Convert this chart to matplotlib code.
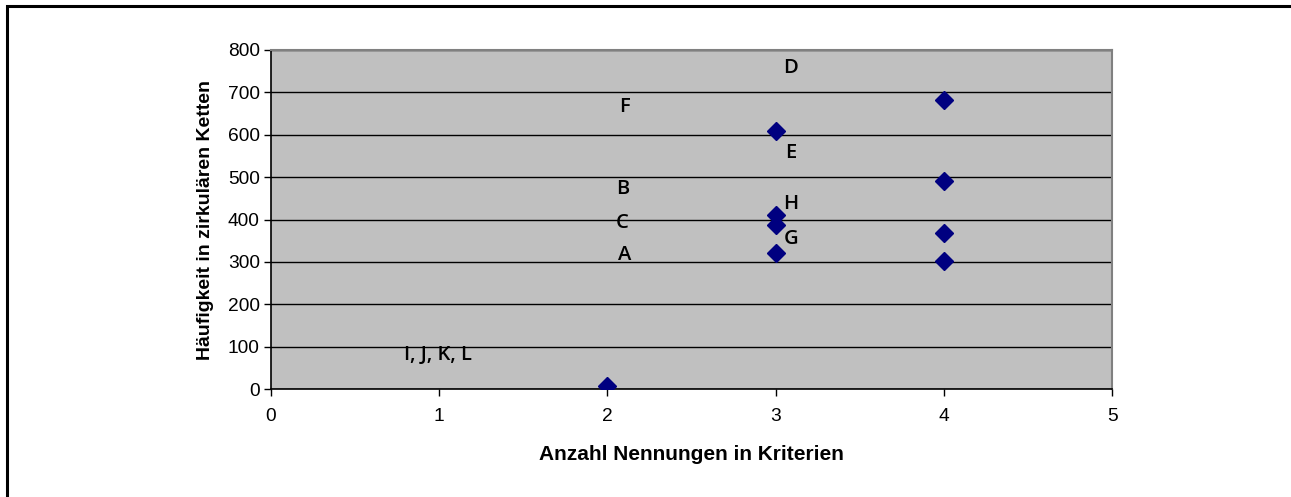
import matplotlib.pyplot as plt
from matplotlib.patches import Rectangle

# data
nennungen = [2, 3, 3, 3, 3, 4, 4, 4, 4]
haeufigkeit = [7, 609, 411, 387, 321, 682, 491, 368, 302]

label_text = ['D', 'F', 'E', 'B', 'H', 'C', 'G', 'A', 'I, J, K, L']
label_x = [3.09, 2.10, 3.09, 2.09, 3.09, 2.09, 3.09, 2.10, 0.99]
label_y = [757, 665, 557, 472, 437, 392, 354, 316, 80]

x_ticks = [0, 1, 2, 3, 4, 5]
y_ticks = [0, 100, 200, 300, 400, 500, 600, 700, 800]

fig = plt.figure(figsize=(12.91, 4.97), dpi=100)
ax = fig.add_axes([0.2099, 0.2173, 0.8614 - 0.2099, 0.8994 - 0.2173])
ax.set_facecolor('#C0C0C0')

ax.plot(nennungen, haeufigkeit, linestyle='none', marker='D', markersize=9,
        color='#000080', zorder=3)

for t, x, y in zip(label_text, label_x, label_y):
    ax.text(x, y, t, ha='center', va='center', fontsize=14.5,
            family='Open Sans', fontweight='semibold', color='black', zorder=4)

ax.set_xlim(0, 5)
ax.set_ylim(0, 800)
ax.set_xticks(x_ticks)
ax.set_yticks(y_ticks)
ax.yaxis.grid(True, color='black', linewidth=1)
ax.set_axisbelow(True)

for lab in ax.get_xticklabels() + ax.get_yticklabels():
    lab.set_family('Liberation Sans')
    lab.set_fontsize(13.8)
ax.tick_params(axis='both', direction='out', length=5, width=1, color='black')
ax.tick_params(axis='x', pad=9)
ax.tick_params(axis='y', pad=3)

ax.spines['left'].set_color('black')
ax.spines['bottom'].set_color('black')
ax.spines['left'].set_linewidth(1.2)
ax.spines['bottom'].set_linewidth(1.2)
ax.spines['top'].set_color('#808080')
ax.spines['right'].set_color('#808080')
ax.spines['top'].set_linewidth(1.5)
ax.spines['right'].set_linewidth(1.5)

ax.set_xlabel('Anzahl Nennungen in Kriterien', family='Liberation Sans',
              fontweight='bold', fontsize=15, labelpad=14)
ax.set_ylabel('Häufigkeit in zirkulären Ketten', family='Liberation Sans',
              fontweight='bold', fontsize=14, labelpad=10)

# frame around the chart (right and bottom edge are cut off)
fig.patches.append(Rectangle((7 / 1291, -0.1), 1.2, 1 - 6 / 497 + 0.1,
                             transform=fig.transFigure, fill=False,
                             edgecolor='black', linewidth=2.2))

fig.savefig('out.png', dpi=100)
